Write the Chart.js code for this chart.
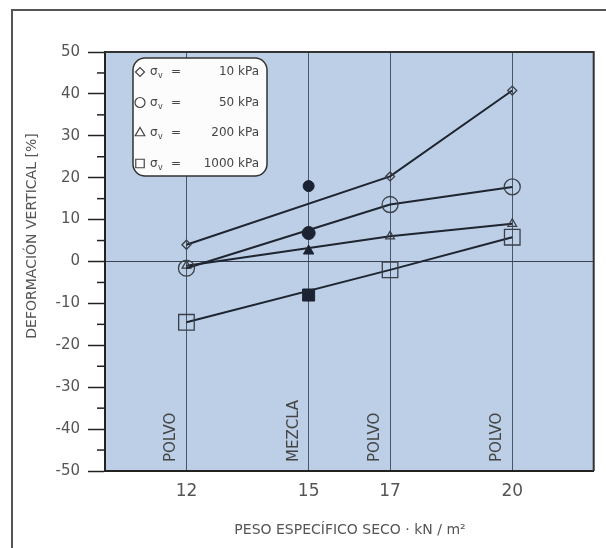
<!DOCTYPE html>
<html><head><meta charset="utf-8">
<script src="https://cdn.jsdelivr.net/npm/chart.js@4.4.0/dist/chart.umd.min.js"></script>
<style>html,body{margin:0;padding:0;background:#fff;}canvas{display:block;}</style>
</head><body>
<canvas id="c" width="606" height="548"></canvas>
<script>
// ---- data ----
const xPositions = [12, 17, 20];          // POLVO samples
const xMezcla = [15];                     // MEZCLA sample
const xTickValues = [12, 15, 17, 20];
const materialLabels = ['POLVO', 'MEZCLA', 'POLVO', 'POLVO'];
const deform10 = [4, 20.3, 40.8];
const deform50 = [-1.6, 13.6, 17.8];
const deform200 = [-1, 6, 9];
const deform1000 = [-14.5, -2, 5.8];
const mezcla10 = [18];
const mezcla50 = [6.8];
const mezcla200 = [2.5];
const mezcla1000 = [-8];
const pressureLabels = ['10 kPa', '50 kPa', '200 kPa', '1000 kPa'];
const legendSymbol = 'σ';
const legendSub = 'v';
const xTitle = 'PESO ESPECÍFICO SECO · kN / m²';
const yTitle = 'DEFORMACIÓN VERTICAL [%]';
const yMin = -50, yMax = 50, yMajor = 10, yMinor = 5;

const FONT = '"DejaVu Sans", sans-serif';
const LINE = '#1f2530';
const MARK = '#3a3f48';
const FILL = '#1b2233';
const pts = (xs, ys) => xs.map((x, i) => ({x, y: ys[i]}));

const styles = ['rectRot', 'circle', 'triangle', 'rect'];
const openRadius = [4.5, 8, 5, 11];
const fillRadius = [5.5, 6.5, 6, 8.5];
const seriesVals = [deform10, deform50, deform200, deform1000];
const mezclaVals = [mezcla10, mezcla50, mezcla200, mezcla1000];

const datasets = [];
seriesVals.forEach((vals, i) => {
  datasets.push({
    label: pressureLabels[i], data: pts(xPositions, vals), showLine: true,
    borderColor: LINE, borderWidth: 2, pointStyle: styles[i], pointRadius: openRadius[i],
    pointBorderColor: MARK, pointBorderWidth: 1.3, pointBackgroundColor: 'rgba(0,0,0,0)'
  });
});
mezclaVals.forEach((vals, i) => {
  datasets.push({
    label: pressureLabels[i] + ' mezcla', data: pts(xMezcla, vals), showLine: false,
    pointStyle: styles[i] === 'rectRot' ? 'circle' : styles[i], pointRadius: fillRadius[i],
    pointBorderColor: FILL, pointBackgroundColor: FILL, pointBorderWidth: 1
  });
});

const deco = {
  id: 'deco',
  beforeDraw(chart) {
    const {ctx, chartArea: a} = chart;
    ctx.save();
    ctx.fillStyle = '#fff'; ctx.fillRect(0, 0, chart.width, chart.height);
    ctx.strokeStyle = '#555'; ctx.lineWidth = 2;
    ctx.beginPath(); ctx.moveTo(12, 548); ctx.lineTo(12, 10); ctx.lineTo(606, 10); ctx.stroke();
    ctx.fillStyle = '#bccfe6'; ctx.fillRect(a.left, a.top, a.right - a.left, a.bottom - a.top);
    ctx.restore();
  },
  afterDraw(chart) {
    const {ctx, chartArea: a, scales} = chart;
    const xs = scales.x, ys = scales.y;
    ctx.save();
    // chart area top/right border
    ctx.strokeStyle = '#333'; ctx.lineWidth = 2;
    ctx.beginPath(); ctx.moveTo(a.left, a.top); ctx.lineTo(a.right, a.top); ctx.lineTo(a.right, a.bottom); ctx.stroke();
    // minor ticks
    ctx.strokeStyle = '#222'; ctx.lineWidth = 1.5;
    for (let v = yMin + yMinor; v < yMax; v += yMajor) {
      const py = ys.getPixelForValue(v);
      ctx.beginPath(); ctx.moveTo(a.left - 8, py); ctx.lineTo(a.left, py); ctx.stroke();
    }
    // material labels
    ctx.fillStyle = '#444'; ctx.font = '15px ' + FONT; ctx.textAlign = 'left'; ctx.textBaseline = 'middle';
    xTickValues.forEach((v, i) => {
      const px = xs.getPixelForValue(v) - 15;
      ctx.save(); ctx.translate(px, a.bottom - 9); ctx.rotate(-Math.PI / 2);
      ctx.fillText(materialLabels[i], 0, 0); ctx.restore();
    });
    // axis titles
    ctx.fillStyle = '#555'; ctx.font = '14px ' + FONT; ctx.textAlign = 'center';
    ctx.fillText(xTitle, 350, 530);
    ctx.save(); ctx.translate(32, 236); ctx.rotate(-Math.PI / 2); ctx.fillText(yTitle, 0, 0); ctx.restore();
    // legend box
    const bx = a.left + 28, by = a.top + 6, bw = 134, bh = 118;
    ctx.fillStyle = '#fcfcfc'; ctx.strokeStyle = '#333'; ctx.lineWidth = 1.5;
    ctx.beginPath(); ctx.roundRect(bx, by, bw, bh, 12); ctx.fill(); ctx.stroke();
    const legendR = [4.5, 5, 5.5, 6];
    pressureLabels.forEach((lab, i) => {
      const cy = by + 14 + i * 30.5;
      ctx.fillStyle = '#fcfcfc'; ctx.strokeStyle = '#444'; ctx.lineWidth = 1.2;
      Chart.helpers.drawPoint(ctx, {pointStyle: styles[i], radius: legendR[i], borderWidth: 1.2}, bx + 7, cy);
      ctx.fillStyle = '#444'; ctx.textAlign = 'left'; ctx.textBaseline = 'middle';
      ctx.font = '12px ' + FONT; ctx.fillText(legendSymbol, bx + 17, cy);
      ctx.font = '8px ' + FONT; ctx.fillText(legendSub, bx + 25, cy + 4);
      ctx.font = '12px ' + FONT; ctx.fillText('=', bx + 38, cy);
      ctx.textAlign = 'right'; ctx.fillText(lab, bx + bw - 8, cy);
    });
    ctx.restore();
  }
};

new Chart(document.getElementById('c'), {
  type: 'scatter',
  data: {datasets},
  plugins: [deco],
  options: {
    responsive: false, animation: false,
    layout: {padding: {top: 52, right: 12, left: 0, bottom: 0}},
    plugins: {legend: {display: false}, tooltip: {enabled: false}},
    scales: {
      x: {
        type: 'linear', min: 10, max: 22,
        afterBuildTicks: s => { s.ticks = xTickValues.map(v => ({value: v})); },
        afterFit: s => { s.height = 77; },
        grid: {color: '#4a5566', lineWidth: 1, drawTicks: false},
        border: {display: true, color: '#222', width: 2},
        ticks: {font: {size: 17, family: FONT}, color: '#555', padding: 10}
      },
      y: {
        min: yMin, max: yMax,
        afterBuildTicks: s => { const t = []; for (let v = yMin; v <= yMax; v += yMajor) t.push({value: v}); s.ticks = t; },
        afterFit: s => { s.width = 105; },
        grid: {
          color: c => (c.tick && c.tick.value === 0) ? '#3a4250' : 'rgba(0,0,0,0)',
          tickColor: '#222', tickLength: 17, tickWidth: 1.5, lineWidth: 1
        },
        border: {display: true, color: '#222', width: 2},
        ticks: {font: {size: 15, family: FONT}, color: '#555', padding: 8}
      }
    }
  }
});
</script>
</body></html>
